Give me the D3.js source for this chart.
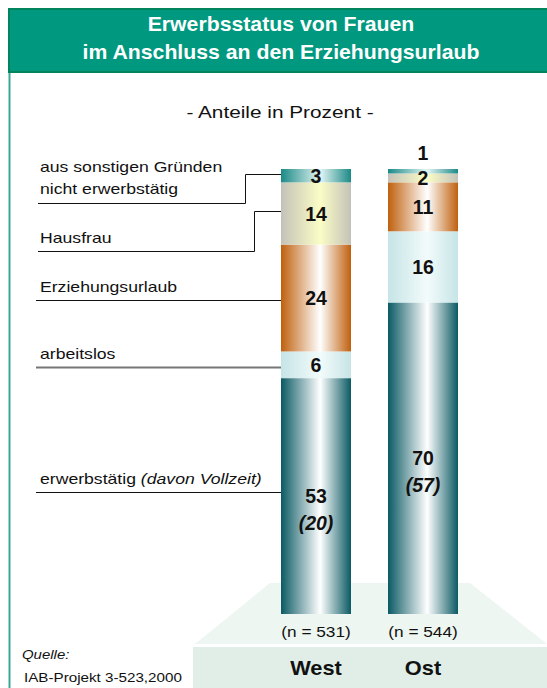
<!DOCTYPE html>
<html><head><meta charset="utf-8">
<script src="https://cdn.jsdelivr.net/npm/d3@7"></script>
<style>body{margin:0;background:#fff}svg{display:block}text{font-family:"Liberation Sans",Arial,sans-serif}</style>
</head><body><svg id="c" width="547" height="688"></svg>
<script>
// ---- data ----
const regions = ["West", "Ost"];
const categories = ["aus sonstigen Gründen nicht erwerbstätig", "Hausfrau", "Erziehungsurlaub", "arbeitslos", "erwerbstätig"];
const westValues = [3, 14, 24, 6, 53];
const ostValues = [1, 2, 11, 16, 70];
const vollzeit = [20, 57];
const sampleSize = [531, 544];
const title = ["Erwerbsstatus von Frauen", "im Anschluss an den Erziehungsurlaub"];
const subtitle = "- Anteile in Prozent -";

const svg = d3.select("#c");
const W = 547, H = 688;
const defs = svg.append("defs");
const palette = [
  {edge:"#1b8a87", mid:"#e4f5f3"},
  {edge:"#c4c2b8", mid:"#fbfdc6"},
  {edge:"#c0600e", mid:"#ffffff"},
  {edge:"#c6e4e6", mid:"#f3fbfb"},
  {edge:"#0b5a64", mid:"#ffffff"}
];
palette.forEach((p,i)=>{
  const g = defs.append("linearGradient").attr("id","g"+i).attr("x1",0).attr("x2",1).attr("y1",0).attr("y2",0);
  g.append("stop").attr("offset","0%").attr("stop-color",p.edge);
  g.append("stop").attr("offset","56%").attr("stop-color",p.mid);
  g.append("stop").attr("offset","100%").attr("stop-color",p.edge);
});

// text helper with horizontal stretch
function txt(sel, x, y, s, size, sx, opts={}) {
  const t = sel.append("text").attr("transform",`translate(${x},${y}) scale(${sx},1)`)
    .attr("font-size",size).attr("fill",opts.fill||"#111")
    .attr("text-anchor",opts.anchor||"start");
  if (opts.bold) t.attr("font-weight","bold");
  if (opts.italic) t.attr("font-style","italic");
  if (s !== null) t.text(s);
  return t;
}

// header
svg.append("rect").attr("x",8).attr("y",8).attr("width",W-8).attr("height",65).attr("fill","#00997f");
svg.append("rect").attr("x",8).attr("y",8).attr("width",W-8).attr("height",2).attr("fill","#00845c");
svg.append("rect").attr("x",8).attr("y",71).attr("width",W-8).attr("height",2).attr("fill","#00845c");
svg.append("rect").attr("x",8).attr("y",8).attr("width",2).attr("height",65).attr("fill","#00845c");
svg.append("line").attr("x1",9.5).attr("x2",9.5).attr("y1",73).attr("y2",H).attr("stroke","#3aa795").attr("stroke-width",2);
title.forEach((s,i)=>txt(svg, 281, 31+i*28, s, 19.5, 1.09, {fill:"#fff", bold:true, anchor:"middle"}));
txt(svg, 280, 118, subtitle, 16, 1.3, {anchor:"middle"});

// scales
const x = d3.scaleBand().domain(regions).range([281,458]).paddingInner(37/107).paddingOuter(0);
const y = d3.scaleLinear().domain([0,100]).range([614,169]);

// platform
svg.append("path").attr("d","M270,583 L470,583 L547,644 L195,644 Z").attr("fill","#edf6f0");
svg.append("rect").attr("x",193).attr("y",647).attr("width",W-193).attr("height",H-647).attr("fill","#e0eee7");

// stacked bars
const allVals = [westValues, ostValues];
regions.forEach((r,ri)=>{
  const vals = allVals[ri];
  let cum = 0;
  const segs = [];
  for (let i = vals.length-1; i>=0; i--) { segs.push({i, v: vals[i], y0: cum, y1: cum+vals[i]}); cum += vals[i]; }
  const g = svg.append("g");
  const cx = x(r)+x.bandwidth()/2;
  g.selectAll("rect").data(segs).join("rect")
    .attr("x",x(r)).attr("width",x.bandwidth())
    .attr("y",d=>y(d.y1)).attr("height",d=>y(d.y0)-y(d.y1))
    .attr("fill",d=>`url(#g${d.i})`);
  g.selectAll("text.v").data(segs).join("text").attr("class","v")
    .attr("x",cx)
    .attr("y",d=>{const h=y(d.y0)-y(d.y1); return h<6 ? y(d.y1)-9 : (y(d.y0)+y(d.y1))/2+7;})
    .attr("text-anchor","middle").attr("font-weight","bold").attr("font-size",19.5).attr("fill","#111")
    .text(d=>d.v);
  const last = segs[0];
  txt(g, cx, (y(last.y0)+y(last.y1))/2+34, `(${vollzeit[ri]})`, 19.5, 1, {bold:true, italic:true, anchor:"middle"});
  txt(svg, cx, 637, `(n = ${sampleSize[ri]})`, 14.5, 1.19, {anchor:"middle"});
  txt(svg, cx, 675, r, 20, 1.09, {anchor:"middle", bold:true});
});

// left labels with leader lines (linked to West segments)
let cumW = 0; const westMid = [];
for (let i=0;i<westValues.length;i++){ westMid.push(y(100-cumW-westValues[i]/2)); cumW += westValues[i]; }
const labelLines = [
  {lines:["aus sonstigen Gründen","nicht erwerbstätig"], base:172, under:203, elbow:245},
  {lines:["Hausfrau"], base:243, under:251, elbow:254},
  {lines:["Erziehungsurlaub"], base:292, under:300, elbow:null},
  {lines:["arbeitslos"], base:359, under:367, elbow:null, gray:true},
  {lines:["erwerbstätig"], base:484, under:492, elbow:null}
];
const lg = svg.append("g");
labelLines.forEach((L,i)=>{
  L.lines.forEach((s,k)=>{
    const t = txt(lg, 40, L.base + k*22, s, 14, 1.26);
    if (i===4) t.append("tspan").attr("font-style","italic").text(" (davon Vollzeit)");
  });
  const stroke = L.gray ? "#777" : "#111", sw = L.gray ? 2 : 1;
  const uy = L.under + 0.5;
  let d;
  if (L.elbow) {
    const ty = Math.round(westMid[i]-2)+0.5;
    d = `M38,${uy} H${L.elbow+0.5} V${ty} H${x("West")}`;
  } else {
    d = `M36,${uy} H${x("West")}`;
  }
  lg.append("path").attr("d",d).attr("fill","none").attr("stroke",stroke).attr("stroke-width",sw);
});

// source
txt(svg, 22, 659, "Quelle:", 13, 1.15, {italic:true});
txt(svg, 24, 682, "IAB-Projekt 3-523,2000", 13, 1.17);
</script></body></html>
